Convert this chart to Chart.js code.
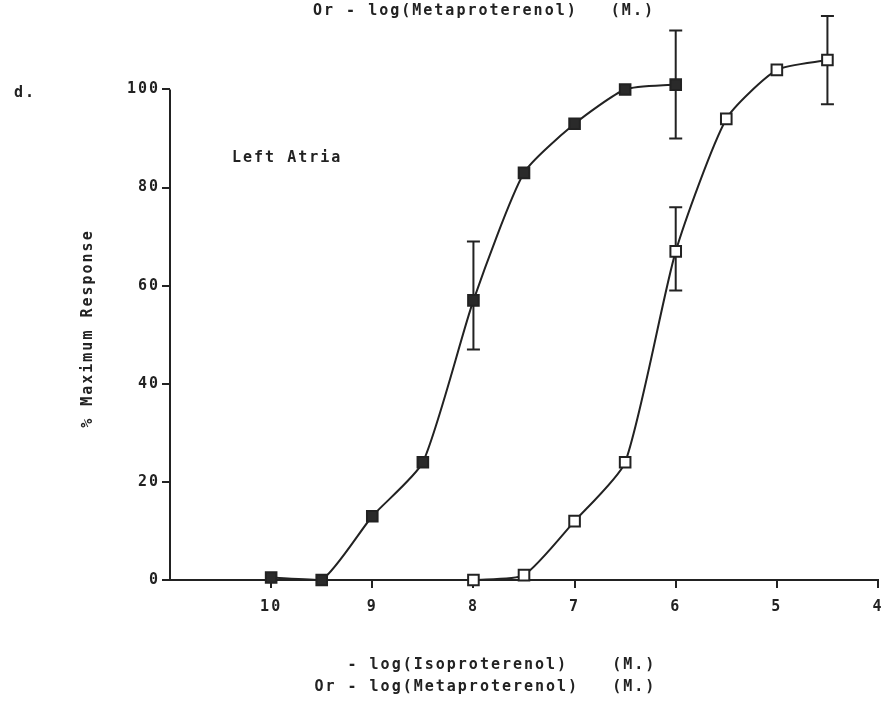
<!DOCTYPE html>
<html>
<head>
<meta charset="utf-8">
<script src="https://cdn.jsdelivr.net/npm/chart.js@4.4.1/dist/chart.umd.min.js"></script>
<style>
html, body { margin: 0; padding: 0; background: #fff; }
#wrap { position: relative; width: 893px; height: 706px; }
</style>
</head>
<body>
<div id="wrap"><canvas id="grafico" width="893" height="706"></canvas></div>
<script>
// Datos (log negativo de la concentracion, % respuesta)
var isoX = [10, 9.5, 9, 8.5, 8, 7.5, 7, 6.5, 6];
var isoY = [0.5, 0, 13, 24, 57, 83, 93, 100, 101];
var metaX = [8, 7.5, 7, 6.5, 6, 5.5, 5, 4.5];
var metaY = [0, 1, 12, 24, 67, 94, 104, 106];

// Barras de error (x, minimo, maximo)
var isoErrX = [8, 6];
var isoErrLow = [47, 90];
var isoErrHigh = [69, 112];
var metaErrX = [6, 4.5];
var metaErrLow = [59, 97];
var metaErrHigh = [76, 115];

// Etiquetas de los ejes
var xTicks = [10, 9, 8, 7, 6, 5, 4];
var yTicks = [0, 20, 40, 60, 80, 100];

var tinta = '#222';
var fuente = "'DejaVu Sans Mono', monospace";

function puntos(xs, ys) {
    return xs.map(function (x, i) { return { x: x, y: ys[i] }; });
}

// Espaciado de letras tipo maquina de escribir
var espaciado = {
    id: 'espaciado',
    beforeDraw: function (chart) {
        chart.ctx.letterSpacing = '2px';
    }
};

// Eje Y solo de 0 a 100, y barras de error
var barrasError = {
    id: 'barrasError',
    beforeDatasetsDraw: function (chart) {
        var ctx = chart.ctx;
        var sx = chart.scales.x, sy = chart.scales.y;
        ctx.save();
        ctx.strokeStyle = tinta;
        ctx.lineWidth = 2;

        // linea del eje Y
        var x0 = chart.chartArea.left;
        ctx.beginPath();
        ctx.moveTo(x0, sy.getPixelForValue(0) + 1);
        ctx.lineTo(x0, sy.getPixelForValue(yTicks[yTicks.length - 1]));
        ctx.stroke();

        var grupos = [
            [isoErrX, isoErrLow, isoErrHigh],
            [metaErrX, metaErrLow, metaErrHigh]
        ];
        grupos.forEach(function (g) {
            g[0].forEach(function (x, i) {
                var px = sx.getPixelForValue(x);
                var y1 = sy.getPixelForValue(g[1][i]);
                var y2 = sy.getPixelForValue(g[2][i]);
                ctx.beginPath();
                ctx.moveTo(px, y1); ctx.lineTo(px, y2);
                ctx.moveTo(px - 6.5, y1); ctx.lineTo(px + 6.5, y1);
                ctx.moveTo(px - 6.5, y2); ctx.lineTo(px + 6.5, y2);
                ctx.stroke();
            });
        });
        ctx.restore();
    }
};

// Textos sueltos de la figura
var textos = {
    id: 'textos',
    afterDraw: function (chart) {
        var ctx = chart.ctx;
        ctx.save();
        ctx.fillStyle = tinta;
        ctx.font = 'bold 15px ' + fuente;
        ctx.letterSpacing = '2px';
        ctx.textBaseline = 'middle';
        ctx.textAlign = 'left';
        ctx.fillText('Or - log(Metaproterenol)   (M.)', 313, 11);
        ctx.fillText('d.', 14, 93);
        ctx.fillText('Left Atria', 232, 158);
        ctx.restore();
    }
};

var ctx = document.getElementById('grafico').getContext('2d');
var myChart = new Chart(ctx, {
    type: 'line',
    data: {
        datasets: [{
            label: 'Isoproterenol',
            data: puntos(isoX, isoY),
            borderColor: tinta,
            borderWidth: 2,
            backgroundColor: tinta,
            pointStyle: 'rect',
            pointRadius: 7.5,
            pointBorderWidth: 2,
            pointBackgroundColor: '#2a2a2a',
            pointBorderColor: tinta,
            tension: 0.2,
            clip: false
        }, {
            label: 'Metaproterenol',
            data: puntos(metaX, metaY),
            borderColor: tinta,
            borderWidth: 2,
            backgroundColor: '#fff',
            pointStyle: 'rect',
            pointRadius: 7.5,
            pointBorderWidth: 2,
            pointBackgroundColor: '#fff',
            pointBorderColor: tinta,
            tension: 0.2,
            clip: false
        }]
    },
    options: {
        responsive: false,
        animation: false,
        layout: { padding: { top: 6, right: 15, left: 0, bottom: 0 } },
        plugins: {
            legend: { display: false },
            tooltip: { enabled: false }
        },
        scales: {
            x: {
                type: 'linear',
                reverse: true,
                min: 4,
                max: 11,
                afterBuildTicks: function (s) {
                    s.ticks = xTicks.map(function (v) { return { value: v }; });
                },
                afterFit: function (s) { s.height = 126; },
                border: { color: tinta, width: 2 },
                grid: { drawOnChartArea: false, tickLength: 8, color: tinta, lineWidth: 2 },
                ticks: {
                    padding: 10,
                    color: tinta,
                    font: { family: fuente, size: 15, weight: 'bold' }
                },
                title: {
                    display: true,
                    text: ['   - log(Isoproterenol)    (M.)       ', 'Or - log(Metaproterenol)   (M.)       '],
                    color: tinta,
                    font: { family: fuente, size: 15, weight: 'bold', lineHeight: 1.45 },
                    padding: { top: 0, bottom: 8 }
                }
            },
            y: {
                min: 0,
                max: 116,
                afterBuildTicks: function (s) {
                    s.ticks = yTicks.map(function (v) { return { value: v }; });
                },
                afterFit: function (s) { s.width = 170; },
                border: { display: false },
                grid: { drawOnChartArea: false, tickLength: 8, color: tinta, lineWidth: 2 },
                ticks: {
                    padding: 2,
                    color: tinta,
                    font: { family: fuente, size: 15, weight: 'bold' }
                },
                title: {
                    display: true,
                    text: '% Maximum Response      ',
                    color: tinta,
                    font: { family: fuente, size: 15, weight: 'bold' },
                    padding: { top: 79, bottom: 0 }
                }
            }
        }
    },
    plugins: [espaciado, barrasError, textos]
});
</script>
</body>
</html>
